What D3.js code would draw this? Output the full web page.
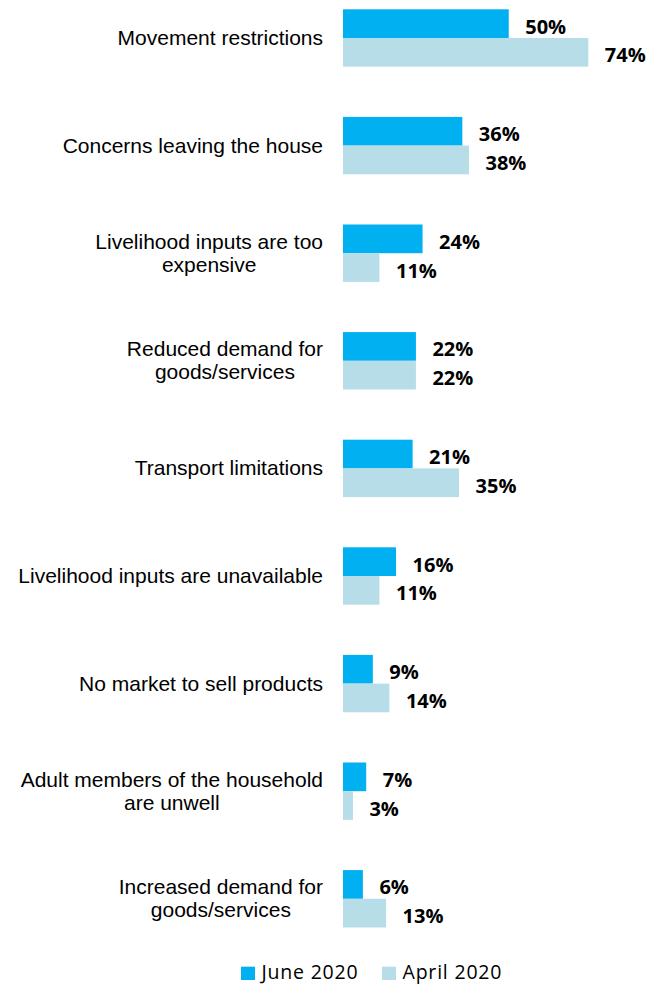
<!DOCTYPE html>
<html>
<head>
<meta charset="utf-8">
<script src="https://cdn.jsdelivr.net/npm/d3@7"></script>
<style>
  html, body { margin: 0; padding: 0; background: #fff; }
  svg { display: block; }
</style>
</head>
<body>
<svg id="chart" width="648" height="984"></svg>
<script>
// Reasons households could not carry out livelihood activities
const categories = [
  ["Movement restrictions"],
  ["Concerns leaving the house"],
  ["Livelihood inputs are too", "expensive"],
  ["Reduced demand for", "goods/services"],
  ["Transport limitations"],
  ["Livelihood inputs are unavailable"],
  ["No market to sell products"],
  ["Adult members of the household", "are unwell"],
  ["Increased demand for", "goods/services"]
];
const june2020 = [50, 36, 24, 22, 21, 16, 9, 7, 6];
const april2020 = [74, 38, 11, 22, 35, 11, 14, 3, 13];
const seriesNames = ["June 2020", "April 2020"];
const seriesColors = ["#00B0F0", "#B7DEE8"];

const svg = d3.select("#chart");
const keys = categories.map((c, i) => i);

const step = 107.6;
const y0 = 9.3 - 25.1;
const y = d3.scaleBand()
  .domain(keys)
  .range([y0, y0 + step * keys.length])
  .paddingInner(0.4665)
  .paddingOuter(0.2333);

const ySeries = d3.scaleBand()
  .domain([0, 1])
  .range([0, y.bandwidth()]);

const x = d3.scaleLinear().domain([0, 74]).range([343, 588.3]);

const groups = svg.append("g").selectAll("g")
  .data(keys)
  .join("g")
  .attr("transform", d => `translate(0,${y(d)})`);

const series = [june2020, april2020];

groups.each(function(i) {
  const g = d3.select(this);
  series.forEach((vals, s) => {
    g.append("rect")
      .attr("x", x(0))
      .attr("y", ySeries(s))
      .attr("width", x(vals[i]) - x(0))
      .attr("height", ySeries.bandwidth())
      .attr("fill", seriesColors[s]);
    g.append("text")
      .attr("x", x(vals[i]) + 16.5)
      .attr("y", ySeries(s) + ySeries.bandwidth() / 2 + 10)
      .attr("font-family", "'Open Sans', sans-serif")
      .attr("font-weight", "bold")
      .attr("font-size", 20)
      .attr("fill", "#000")
      .text(vals[i] + "%");
  });

  // Category label, lines centred on each other and right-aligned as a block
  const lines = categories[i];
  const mid = y.bandwidth() / 2 + 7;
  const lh = 23.3;
  const label = g.append("g");
  const texts = lines.map((line, k) => label.append("text")
    .attr("y", mid + (k - (lines.length - 1) / 2) * lh)
    .attr("font-family", "'Liberation Sans', Arial, sans-serif")
    .attr("font-size", 21)
    .attr("fill", "#000")
    .attr("text-anchor", "middle")
    .text(line));
  const widths = texts.map(t => t.node().getComputedTextLength());
  const maxW = d3.max(widths);
  const right = 323;
  texts.forEach(t => t.attr("x", right - maxW / 2));
});

// Legend
const legendItems = [
  { name: seriesNames[0], color: seriesColors[0], x: 241 },
  { name: seriesNames[1], color: seriesColors[1], x: 382 }
];
const legend = svg.append("g");
legendItems.forEach(it => {
  legend.append("rect")
    .attr("x", it.x).attr("y", 966.7)
    .attr("width", 14).attr("height", 13.3)
    .attr("fill", it.color);
  legend.append("text")
    .attr("x", it.x + 20.5).attr("y", 979)
    .attr("font-family", "'Open Sans', sans-serif")
    .attr("font-size", 19.5)
    .attr("letter-spacing", 0.8)
    .attr("fill", "#000")
    .text(it.name);
});
</script>
</body>
</html>
